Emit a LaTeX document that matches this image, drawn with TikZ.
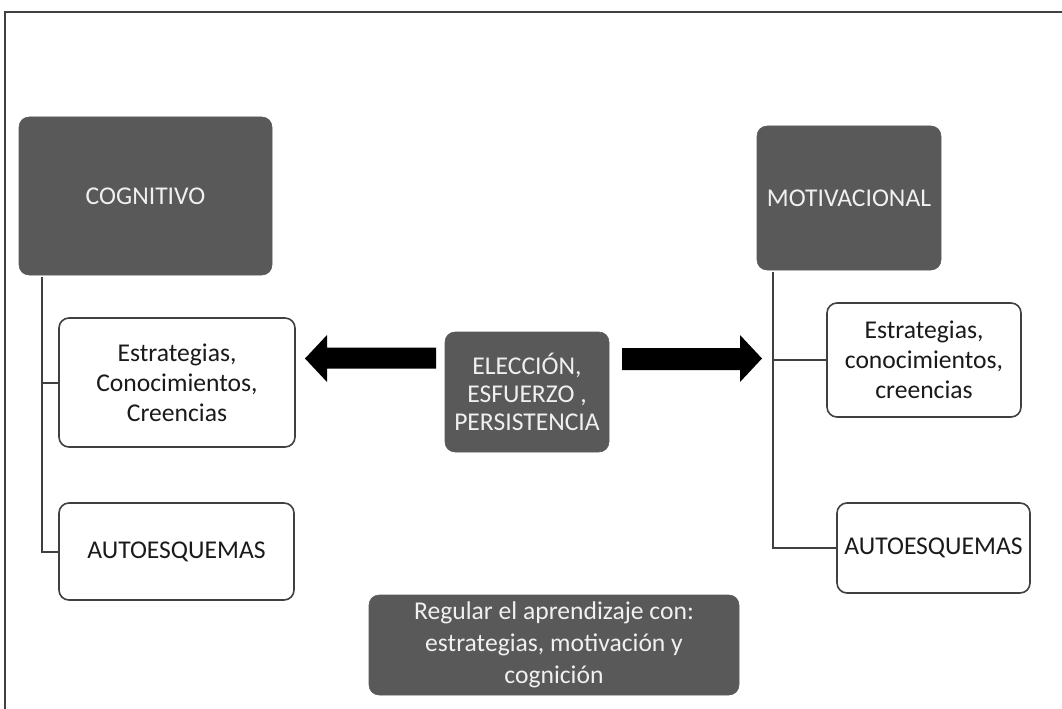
\documentclass[tikz,border=0pt]{standalone}
\usepackage{fontspec}
\setmainfont{Carlito}
\usetikzlibrary{calc}
\definecolor{boxgray}{HTML}{595959}
\definecolor{linegray}{HTML}{404040}
\definecolor{txtlight}{HTML}{F0F0F0}
\definecolor{txtdark}{HTML}{1A1A1A}
\begin{document}
\begin{tikzpicture}[x=0.75pt,y=-0.75pt,
  darkbox/.style={draw=boxgray,fill=boxgray,rounded corners=7.5pt,text=txtlight,align=center,inner sep=2pt,font=\fontsize{19.2}{22.5}\selectfont},
  lightbox/.style={draw=linegray,line width=1.2pt,fill=white,rounded corners=7.5pt,text=txtdark,align=center,inner sep=2pt,font=\fontsize{19.2}{22.5}\selectfont},
  trunk/.style={draw=linegray,line width=1.5pt},
  blockarrow/.style={fill=black}]
\useasboundingbox (0,0) rectangle (1062,709);
\draw[draw=linegray,line width=1.6pt] (5,709) -- (5,12) -- (1062,12);

\node[darkbox,minimum width=189.75pt,minimum height=118.5pt] (cog) at (145.5,196) {COGNITIVO};
\node[lightbox,minimum width=177pt,minimum height=96.75pt] (est1) at (177,382.5) {Estrategias,\\Conocimientos,\\Creencias};
\node[lightbox,minimum width=176.25pt,minimum height=72.75pt] (aut1) at (176.5,551.5) {AUTOESQUEMAS};

\node[darkbox,minimum width=138pt,minimum height=108pt] (mot) at (849,198) {MOTIVACIONAL};
\node[lightbox,minimum width=145.5pt,minimum height=85.5pt] (est2) at (924,360) {Estrategias,\\conocimientos,\\creencias};
\node[lightbox,minimum width=144.75pt,minimum height=67.5pt] (aut2) at (933.5,548) {AUTOESQUEMAS};

\node[darkbox,minimum width=123pt,minimum height=90pt,font=\fontsize{19.2}{21}\selectfont] (cen) at (527,392) {ELECCIÓN,\\ESFUERZO ,\\PERSISTENCIA};
\node[darkbox,minimum width=277.5pt,minimum height=75pt,font=\fontsize{19.2}{24}\selectfont] (reg) at (554,645) {Regular el aprendizaje con:\\estrategias, motivación y\\cognición};

% left tree
\coordinate (ltop) at ($(cog.south west)+(23,2)$);
\draw[trunk] (ltop) |- (aut1.west);
\draw[trunk] (est1.west) -- (est1.west -| ltop);
% right tree
\coordinate (rtop) at ($(mot.south west)+(16,2)$);
\draw[trunk] (rtop) |- (aut2.west);
\draw[trunk] (est2.west) -- (est2.west -| rtop);

% block arrows
\coordinate (la) at (436,358);
\coordinate (ra) at (622,359);
\fill[blockarrow] (la) ++(0,-10.5) -- (327,347.5) -- (327,335) -- (305,358.5) -- (327,382) -- (327,368.5) -- (436,368.5) -- cycle;
\fill[blockarrow] (ra) ++(0,-11) -- (740,348) -- (740,335) -- (762,358.5) -- (740,382) -- (740,370) -- (622,370) -- cycle;
\end{tikzpicture}
\end{document}
